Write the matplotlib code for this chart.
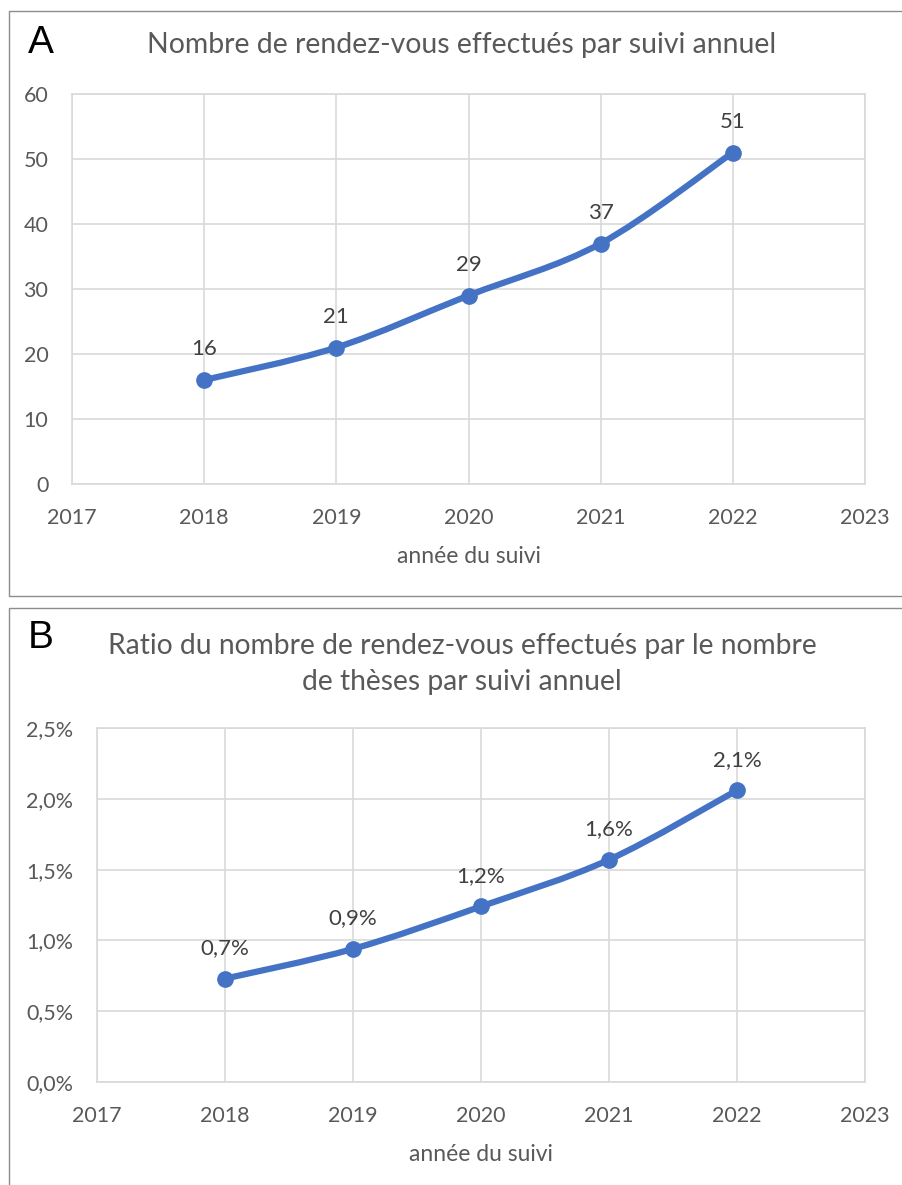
import numpy as np
import matplotlib.pyplot as plt
from matplotlib.path import Path
from matplotlib.patches import PathPatch, Rectangle
from matplotlib.ticker import FuncFormatter, MultipleLocator

plt.rcParams['font.family'] = ['Lato', 'DejaVu Sans']

# =============================
# Data
# =============================
years = [2018, 2019, 2020, 2021, 2022]
rdv_counts = [16, 21, 29, 37, 51]
rdv_ratio = [0.73, 0.94, 1.24, 1.57, 2.06]   # in %
ratio_labels = ["0,7%", "0,9%", "1,2%", "1,6%", "2,1%"]

title_a = "Nombre de rendez-vous effectués par suivi annuel"
title_b = "Ratio du nombre de rendez-vous effectués par le nombre\nde thèses par suivi annuel"
xlabel = "année du suivi"

BLUE = "#4472C4"
GRID = "#D9D9D9"
TXT = "#595959"
LBL = "#404040"

W, H = 903, 1185
fig = plt.figure(figsize=(W / 100, H / 100), dpi=100)


def px_axes(l, t, r, b):
    return fig.add_axes([l / W, 1 - b / H, (r - l) / W, (b - t) / H])


def smooth_path(x, y):
    # Bezier smoothing similar to a spreadsheet "smoothed line"
    x = np.asarray(x, float)
    y = np.asarray(y, float)
    n = len(x)
    verts = [(x[0], y[0])]
    codes = [Path.MOVETO]
    for i in range(n - 1):
        i0 = max(i - 1, 0)
        i2 = min(i + 2, n - 1)
        c1 = (x[i] + (x[i + 1] - x[i0]) / 6, y[i] + (y[i + 1] - y[i0]) / 6)
        c2 = (x[i + 1] - (x[i2] - x[i]) / 6, y[i + 1] - (y[i2] - y[i]) / 6)
        verts += [c1, c2, (x[i + 1], y[i + 1])]
        codes += [Path.CURVE4] * 3
    return Path(verts, codes)


def style_axes(ax, ymax, ystep, yfmt):
    ax.set_xlim(2017, 2023)
    ax.set_ylim(0, ymax)
    ax.xaxis.set_major_locator(MultipleLocator(1))
    ax.yaxis.set_major_locator(MultipleLocator(ystep))
    ax.yaxis.set_major_formatter(FuncFormatter(yfmt))
    ax.grid(True, color=GRID, linewidth=1.2)
    ax.set_axisbelow(True)
    for s in ax.spines.values():
        s.set_color(GRID)
        s.set_linewidth(1.2)
    ax.tick_params(length=0, labelsize=15.5, colors=TXT, pad=17)
    ax.set_xlabel(xlabel, fontsize=16.5, color=TXT, labelpad=13)


def draw_series(ax, y, labels):
    ax.add_patch(PathPatch(smooth_path(years, y), facecolor="none",
                           edgecolor=BLUE, linewidth=4.5, capstyle="round"))
    ax.plot(years, y, "o", color=BLUE, markersize=11, zorder=3)
    for xv, yv, lab in zip(years, y, labels):
        ax.annotate(lab, (xv, yv), xytext=(0, 22), textcoords="offset points",
                    ha="center", va="center", fontsize=16, color=LBL)


# panel frames
for (l, t, r, b) in [(9, 11, 903, 596), (9, 608, 903, 1200)]:
    fig.patches.append(Rectangle((l / W, 1 - b / H), (r - l) / W, (b - t) / H,
                                 transform=fig.transFigure, fill=False,
                                 edgecolor="#8C8C8C", linewidth=1))

# =============================
# Panel A
# =============================
ax1 = px_axes(72, 94, 865, 484)
style_axes(ax1, 60, 10, lambda v, p: f"{v:.0f}")
draw_series(ax1, rdv_counts, [str(v) for v in rdv_counts])
fig.text(462 / W, 1 - 45 / H, title_a, ha="center", va="center",
         fontsize=20.4, color=TXT)
fig.text(28 / W, 1 - 43 / H, "A", ha="left", va="center", fontsize=28,
         family="Liberation Sans", color="black")

# =============================
# Panel B
# =============================
ax2 = px_axes(97, 728, 865, 1082)
style_axes(ax2, 2.5, 0.5, lambda v, p: f"{v:.1f}%".replace(".", ","))
draw_series(ax2, rdv_ratio, ratio_labels)
fig.text(462 / W, 1 - 664 / H, title_b, ha="center", va="center",
         fontsize=20.3, color=TXT, linespacing=1.45)
fig.text(28 / W, 1 - 638 / H, "B", ha="left", va="center", fontsize=28,
         family="Liberation Sans", color="black")

plt.savefig("out.png", dpi=100)
